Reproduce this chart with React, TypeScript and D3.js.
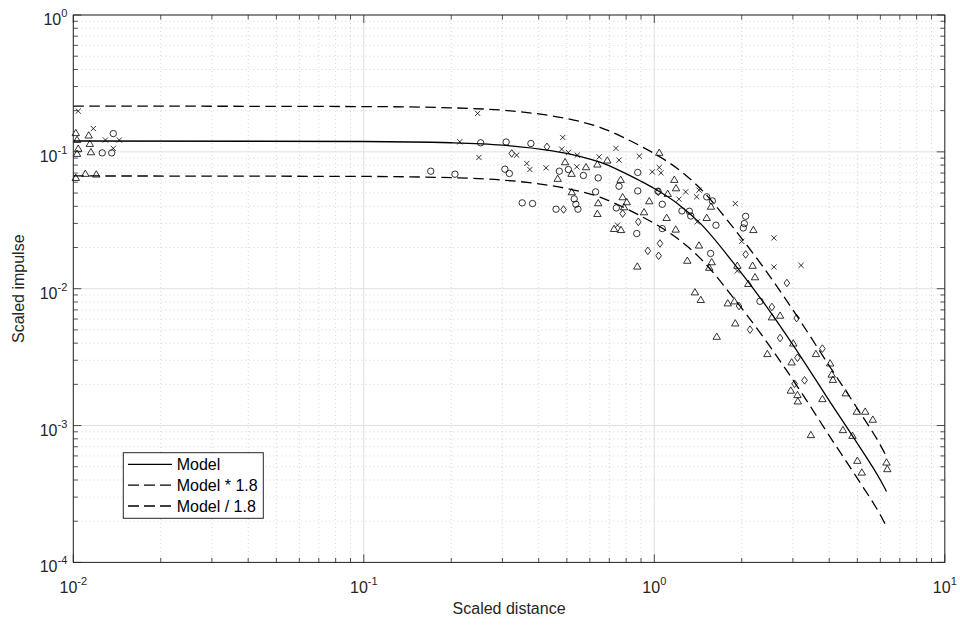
import React from 'react';
import * as d3 from 'd3';

const W = 960;
const H = 626;
const PL = 73.3, PR = 944.8, PT = 15, PB = 562.4;

const xTickExps = [-2, -1, 0, 1];
const yTickExps = [-4, -3, -2, -1, 0];
const xLabel = 'Scaled distance';
const yLabel = 'Scaled impulse';
const legendLabels = ['Model', 'Model * 1.8', 'Model / 1.8'];
const factor = 1.8;

const modelX = [0.01, 0.1, 0.2, 0.3, 0.44, 0.55, 0.65, 0.76, 0.9, 1.0, 1.2, 1.44, 1.87, 2.37, 3.22, 4.0, 5.0, 6.0, 6.3];
const modelY = [0.12, 0.119, 0.1165, 0.112, 0.102, 0.093, 0.084, 0.073, 0.061, 0.054, 0.042, 0.030, 0.0155, 0.0080, 0.0031, 0.00152, 0.00074, 0.0004, 0.00033];

const triangles: [number, number][] = [
  [0.0102, 0.138], [0.0103, 0.123], [0.0104, 0.106], [0.0103, 0.0973], [0.0113, 0.1325], [0.0114, 0.115], [0.0115, 0.1], [0.0102, 0.0649], [0.011, 0.0695], [0.012, 0.0687],
  [0.493, 0.0845], [0.465, 0.0639], [0.519, 0.0695], [0.582, 0.0777], [0.637, 0.0813], [0.689, 0.087], [1.04, 0.099], [0.766, 0.0628], [0.52, 0.051], [0.641, 0.0424],
  [0.637, 0.0354], [0.778, 0.0469], [0.804, 0.0431], [0.787, 0.0396], [0.961, 0.0438], [0.922, 0.0364], [1.103, 0.0331], [1.185, 0.0272], [0.727, 0.0275], [0.768, 0.027],
  [0.874, 0.0146], [1.172, 0.0628], [1.188, 0.0545], [1.112, 0.0496], [1.299, 0.0161], [1.425, 0.0208], [1.515, 0.0331], [1.567, 0.04], [2.193, 0.027], [1.576, 0.0157],
  [1.546, 0.0143], [1.931, 0.0148], [2.18, 0.0148], [2.222, 0.0122], [2.107, 0.0109], [1.38, 0.00946], [1.445, 0.00832], [1.79, 0.00786], [1.886, 0.00813], [1.9, 0.00561],
  [1.64, 0.00448], [2.54, 0.00621], [2.71, 0.00639], [3.01, 0.004], [2.45, 0.00335], [2.97, 0.00291], [3.6, 0.00335], [4.03, 0.00286], [4.08, 0.00237], [4.12, 0.00217],
  [4.56, 0.00173], [2.95, 0.00181], [3.11, 0.00168], [3.12, 0.00151], [3.79, 0.00157], [4.98, 0.00127], [5.32, 0.00127], [5.65, 0.00111], [4.46, 0.000932], [4.81, 0.000846],
  [3.46, 0.000857], [5.0, 0.000556], [5.18, 0.000456], [6.3, 0.00054], [6.34, 0.000483],
];

const circles: [number, number][] = [
  [0.01373, 0.136], [0.01258, 0.0983], [0.01356, 0.0983],
  [0.2525, 0.1164], [0.309, 0.118], [0.376, 0.115], [0.17, 0.0722], [0.206, 0.0687], [0.306, 0.0747], [0.317, 0.0695], [0.351, 0.0424], [0.381, 0.0419],
  [0.471, 0.0722], [0.506, 0.0743], [0.57, 0.0672], [0.641, 0.0645], [0.628, 0.051], [0.459, 0.0381], [0.53, 0.0453], [0.537, 0.0414], [0.546, 0.0381],
  [0.756, 0.0561], [0.74, 0.0389], [0.877, 0.0707], [0.877, 0.0518], [0.87, 0.0253], [1.03, 0.0516], [1.065, 0.0414], [1.065, 0.0275], [1.245, 0.037],
  [1.32, 0.0368], [1.335, 0.034], [1.515, 0.0469], [1.584, 0.0438], [1.63, 0.0291], [2.063, 0.0338], [2.041, 0.0299], [2.025, 0.0278], [1.563, 0.0181], [2.31, 0.00809],
];

const diamonds: [number, number][] = [
  [0.427, 0.1088], [0.323, 0.0973], [0.487, 0.0379], [0.778, 0.0354], [0.881, 0.0308], [1.046, 0.0214], [0.95, 0.0189], [1.035, 0.0174], [1.032, 0.051], [2.063, 0.0178],
  [2.86, 0.011], [1.957, 0.00747], [2.54, 0.00735], [3.09, 0.0061], [2.135, 0.00502], [2.71, 0.00436], [3.79, 0.00365], [3.11, 0.00313], [3.29, 0.00214], [3.04, 0.00202],
];

const crosses: [number, number][] = [
  [0.0104, 0.1985], [0.01172, 0.148], [0.0129, 0.122], [0.0144, 0.122], [0.01373, 0.106],
  [0.2465, 0.191], [0.214, 0.1184], [0.249, 0.091], [0.336, 0.0946], [0.364, 0.0822], [0.373, 0.0743], [0.424, 0.0764],
  [0.484, 0.1274], [0.48, 0.1046], [0.506, 0.099], [0.543, 0.0946], [0.541, 0.0777], [0.646, 0.0919], [0.738, 0.106], [0.756, 0.087],
  [0.888, 0.093], [0.984, 0.0714], [1.04, 0.0769], [1.054, 0.0702], [1.216, 0.0451], [1.282, 0.051], [1.399, 0.0469], [1.425, 0.0525],
  [0.747, 0.0291], [1.9, 0.0419], [1.406, 0.0308], [2.58, 0.0235], [2.58, 0.0144], [1.998, 0.0222], [1.931, 0.0135], [3.2, 0.0148],
];

const FONT = '"Liberation Sans", Arial, Helvetica, sans-serif';
const AXIS = '#262626';

export default function App() {
  const x = d3.scaleLog().domain([0.01, 10]).range([PL, PR]);
  const y = d3.scaleLog().domain([1e-4, 1]).range([PB, PT]);

  const xMinor: number[] = [];
  for (let e = -2; e < 1; e++) for (let m = 2; m <= 9; m++) xMinor.push(m * Math.pow(10, e));
  const yMinor: number[] = [];
  for (let e = -4; e < 0; e++) for (let m = 2; m <= 9; m++) yMinor.push(m * Math.pow(10, e));

  const pts = modelX.map((v, i) => [v, modelY[i]] as [number, number]);
  const line = d3.line<[number, number]>().x(d => x(d[0])).y(d => y(d[1])).curve(d3.curveMonotoneX);
  const pModel = line(pts) || '';
  const pUp = line(pts.map(d => [d[0], d[1] * factor] as [number, number])) || '';
  const pDn = line(pts.map(d => [d[0], d[1] / factor] as [number, number])) || '';

  const majT = 8, minT = 4.5;
  const mk = { stroke: '#000', strokeWidth: 0.8, fill: 'none' };

  return (
    <svg width={W} height={H} style={{ position: 'absolute', left: 0, top: 0, background: '#fff' }} fontFamily={FONT}>
      <rect x={0} y={0} width={W} height={H} fill="#fff" />
      {xMinor.map((v, i) => (
        <line key={'xg' + i} x1={x(v)} x2={x(v)} y1={PT} y2={PB} stroke="#cacaca" strokeWidth={0.8} strokeDasharray="1,3" />
      ))}
      {yMinor.map((v, i) => (
        <line key={'yg' + i} x1={PL} x2={PR} y1={y(v)} y2={y(v)} stroke="#cacaca" strokeWidth={0.8} strokeDasharray="1,3" />
      ))}
      {xTickExps.map(e => (
        <line key={'xM' + e} x1={x(Math.pow(10, e))} x2={x(Math.pow(10, e))} y1={PT} y2={PB} stroke="#e0e0e0" strokeWidth={1} />
      ))}
      {yTickExps.map(e => (
        <line key={'yM' + e} x1={PL} x2={PR} y1={y(Math.pow(10, e))} y2={y(Math.pow(10, e))} stroke="#e0e0e0" strokeWidth={1} />
      ))}

      <path d={pModel} fill="none" stroke="#000" strokeWidth={1.3} />
      <path d={pUp} fill="none" stroke="#000" strokeWidth={1.3} strokeDasharray="10.5,5.5" />
      <path d={pDn} fill="none" stroke="#000" strokeWidth={1.3} strokeDasharray="10.5,5.5" />

      {triangles.map((d, i) => {
        const cx = x(d[0]), cy = y(d[1]);
        return <path key={'t' + i} d={`M${cx},${cy - 3.4}L${cx + 3.7},${cy + 2.9}L${cx - 3.7},${cy + 2.9}Z`} {...mk} />;
      })}
      {circles.map((d, i) => (
        <circle key={'c' + i} cx={x(d[0])} cy={y(d[1])} r={3.2} {...mk} />
      ))}
      {diamonds.map((d, i) => {
        const cx = x(d[0]), cy = y(d[1]);
        return <path key={'d' + i} d={`M${cx},${cy - 3.8}L${cx + 2.8},${cy}L${cx},${cy + 3.8}L${cx - 2.8},${cy}Z`} {...mk} />;
      })}
      {crosses.map((d, i) => {
        const cx = x(d[0]), cy = y(d[1]);
        const s = 2.6;
        return <path key={'x' + i} d={`M${cx - s},${cy - s}L${cx + s},${cy + s}M${cx - s},${cy + s}L${cx + s},${cy - s}`} {...mk} />;
      })}

      {xTickExps.map(e => {
        const px = x(Math.pow(10, e));
        return (
          <g key={'xt' + e}>
            <line x1={px} x2={px} y1={PB} y2={PB - majT} stroke={AXIS} strokeWidth={0.8} />
            <line x1={px} x2={px} y1={PT} y2={PT + majT} stroke={AXIS} strokeWidth={0.8} />
          </g>
        );
      })}
      {xMinor.map((v, i) => {
        const px = x(v);
        return (
          <g key={'xmt' + i}>
            <line x1={px} x2={px} y1={PB} y2={PB - minT} stroke={AXIS} strokeWidth={0.8} />
            <line x1={px} x2={px} y1={PT} y2={PT + minT} stroke={AXIS} strokeWidth={0.8} />
          </g>
        );
      })}
      {yTickExps.map(e => {
        const py = y(Math.pow(10, e));
        return (
          <g key={'yt' + e}>
            <line x1={PL} x2={PL + majT} y1={py} y2={py} stroke={AXIS} strokeWidth={0.8} />
            <line x1={PR} x2={PR - majT} y1={py} y2={py} stroke={AXIS} strokeWidth={0.8} />
          </g>
        );
      })}
      {yMinor.map((v, i) => {
        const py = y(v);
        return (
          <g key={'ymt' + i}>
            <line x1={PL} x2={PL + minT} y1={py} y2={py} stroke={AXIS} strokeWidth={0.8} />
            <line x1={PR} x2={PR - minT} y1={py} y2={py} stroke={AXIS} strokeWidth={0.8} />
          </g>
        );
      })}

      <rect x={PL} y={PT} width={PR - PL} height={PB - PT} fill="none" stroke={AXIS} strokeWidth={1} />

      {xTickExps.map(e => (
        <text key={'xl' + e} x={x(Math.pow(10, e))} y={PB + 30.6} textAnchor="middle" fontSize={16} fill={AXIS}>
          10<tspan dy={-8.5} fontSize={11}>{String(e)}</tspan>
        </text>
      ))}
      {yTickExps.map(e => (
        <text key={'yl' + e} x={PL - 6} y={y(Math.pow(10, e)) + 10} textAnchor="end" fontSize={16} fill={AXIS}>
          10<tspan dy={-8} fontSize={11}>{String(e)}</tspan>
        </text>
      ))}

      <text x={(PL + PR) / 2} y={614} textAnchor="middle" fontSize={16} fill={AXIS}>{xLabel}</text>
      <text transform={`translate(24, ${(PT + PB) / 2}) rotate(-90)`} textAnchor="middle" fontSize={16} fill={AXIS}>{yLabel}</text>

      <g>
        <rect x={123.3} y={452.7} width={140} height={65.6} fill="#fff" stroke={AXIS} strokeWidth={1} />
        {legendLabels.map((lab, i) => {
          const ly = 464.3 + i * 20.85;
          return (
            <g key={'lg' + i}>
              <line x1={128} x2={172} y1={ly} y2={ly} stroke="#000" strokeWidth={1.3} strokeDasharray={i === 0 ? undefined : '11,5'} />
              <text x={176.7} y={ly + 5.7} fontSize={16} fill="#000">{lab}</text>
            </g>
          );
        })}
      </g>
    </svg>
  );
}
